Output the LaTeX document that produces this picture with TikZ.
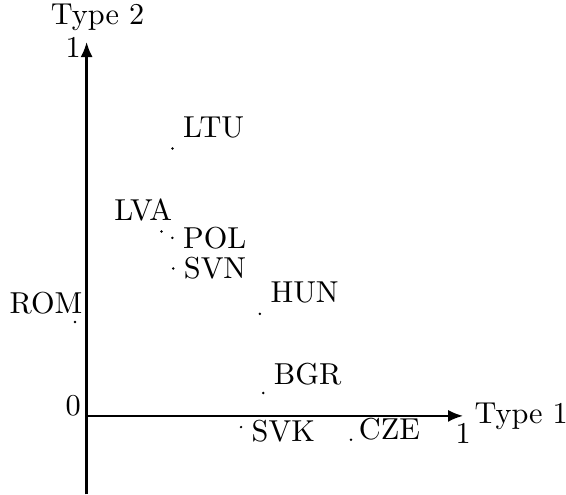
\documentclass[tikz,border=0pt]{standalone}
\usepackage{amsmath,amssymb}
\usepackage{tikz}
\usetikzlibrary{arrows.meta}

\begin{document}
\begin{tikzpicture}[x=4.37cm,y=4.34cm,>={Latex[length=5pt,width=4pt]}]
\useasboundingbox (-0.230,-0.210) rectangle (1.273,1.112);
\draw[->,thick] (0,0) -- (1,0) node[right] (type1) {Type 1};
\draw[->,thick] (0,-0.21) -- (0,1) node[above,xshift=3.6pt] (type2) {Type 2};

\node[below,yshift=1.2pt] (xone) at (1,0) {1};
\node[left,xshift=1.6pt,yshift=-1.9pt] (yone) at (0,1) {1};
\node[above left,xshift=1.6pt,yshift=-3.5pt] (zero) at (0,0) {0};

%countries
\fill (0.228,0.715) circle (0.45pt) node[above right] (ltu) {LTU};
\fill (0.199,0.493) circle (0.45pt) node[above left,xshift=7pt] (lva) {LVA};
\fill (0.228,0.476) circle (0.45pt) node[right] (pol) {POL};
\fill (0.230,0.394) circle (0.45pt) node[right] (svn) {SVN};
\fill (0.460,0.273) circle (0.45pt) node[above right] (hun) {HUN};
\fill (0.469,0.061) circle (0.45pt) node[above right,yshift=-1pt] (bgr) {BGR};
\fill (-0.031,0.251) circle (0.45pt) node[above left,xshift=6pt,yshift=-0.8pt] (rom) {ROM};
\fill (0.410,-0.030) circle (0.45pt) node[right,yshift=-1.4pt] (svk) {SVK};
\fill (0.702,-0.064) circle (0.45pt) node[right,xshift=-0.9pt,yshift=3.6pt] (cze) {CZE};
\end{tikzpicture}
\end{document}
